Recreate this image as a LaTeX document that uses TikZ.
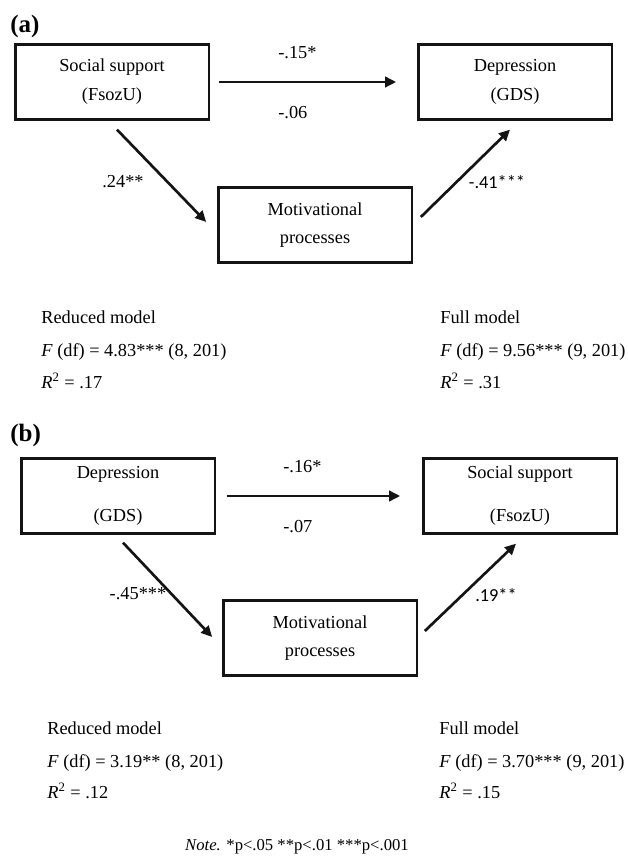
\documentclass[tikz,border=0pt]{standalone}
\usepackage{fontspec}
\setmainfont{Liberation Serif}
\newfontfamily\calibrisans{Carlito}
\usepackage{tikz}
\usetikzlibrary{
  arrows.meta,
  positioning
}
\definecolor{PathBlack}{RGB}{20,20,20}
\tikzset{
  varbox/.style={draw=PathBlack,fill=white,line width=1.4pt,minimum width=116pt,minimum height=45pt,align=center,font=\fontsize{11}{13.5}\selectfont},
  patharrow/.style={-{Triangle[length=6.6pt,width=6.2pt]},line width=1.6pt,draw=PathBlack},
  coef/.style={inner sep=0pt,font=\fontsize{11}{13}\selectfont},
  coefsans/.style={inner sep=0pt,font=\calibrisans\fontsize{11}{13}\selectfont},
  modeltext/.style={anchor=base west,inner sep=0pt,font=\fontsize{11}{13}\selectfont},
  panellabel/.style={anchor=base west,inner sep=0pt,font=\bfseries\fontsize{15}{18}\selectfont}
}

\begin{document}
\begin{tikzpicture}[x=0.6pt,y=-0.6pt]
\useasboundingbox (0,0) rectangle (627,858);
% panel (a)
\node[panellabel] (pa) at (10,33) {(a)};
\node[varbox] (ssA) at (112,82) {Social support\\[3.8pt](FsozU)};
\node[varbox] (depA) at (515,82) {Depression\\[3.8pt](GDS)};
\node[varbox] (motA) at (315,225) {Motivational\\[3.3pt]processes};
\draw[patharrow, shorten <=5.4pt, shorten >=12.6pt] (ssA) -- (depA);
\draw[patharrow] ([shift={(5,9)}]ssA.south) -- ([shift={(-11,-3)}]motA.west);
\draw[patharrow] ([shift={(8,-8)}]motA.east) -- ([shift={(-5,9)}]depA.south);
\node[coef, anchor=west] (cA1) at (278,53) {-.15*};
\node[coef, anchor=west] (cA2) at (278,113) {-.06};
\node[coef] (aA) at (123,182) {.24**};
\node[coefsans] (bA) at (497,182) {-.41***};
\node[modeltext] (redA1) at (41,323) {Reduced model};
\node[modeltext] (redA2) at (41,356) {\textit{F} (df) = 4.83*** (8, 201)};
\node[modeltext] (redA3) at (41,388) {\textit{R}\textsuperscript{2} = .17};
\node[modeltext] (fullA1) at (440,323) {Full model};
\node[modeltext] (fullA2) at (440,356) {\textit{F} (df) = 9.56*** (9, 201)};
\node[modeltext] (fullA3) at (440,388) {\textit{R}\textsuperscript{2} = .31};
% panel (b)
\node[panellabel] (pb) at (10,441) {(b)};
\node[varbox] (depB) at (118,496) {Depression\\[12.3pt](GDS)};
\node[varbox] (ssB) at (520,496) {Social support\\[12.3pt](FsozU)};
\node[varbox] (motB) at (320,638) {Motivational\\[3.3pt]processes};
\draw[patharrow, shorten <=6.6pt, shorten >=13.2pt] (depB) -- (ssB);
\draw[patharrow] ([shift={(5,8)}]depB.south) -- ([shift={(-10,-1)}]motB.west);
\draw[patharrow] ([shift={(7,-7)}]motB.east) -- ([shift={(-4,9)}]ssB.south);
\node[coef, anchor=west] (cB1) at (283,467) {-.16*};
\node[coef, anchor=west] (cB2) at (283,527) {-.07};
\node[coef] (aB) at (138,594) {-.45***};
\node[coefsans] (bB) at (496,595) {.19**};
\node[modeltext] (redB1) at (47,734) {Reduced model};
\node[modeltext] (redB2) at (47,767) {\textit{F} (df) = 3.19** (8, 201)};
\node[modeltext] (redB3) at (47,798) {\textit{R}\textsuperscript{2} = .12};
\node[modeltext] (fullB1) at (439,734) {Full model};
\node[modeltext] (fullB2) at (439,767) {\textit{F} (df) = 3.70*** (9, 201)};
\node[modeltext] (fullB3) at (439,798) {\textit{R}\textsuperscript{2} = .15};
% note
\node[anchor=base, inner sep=0pt, font=\fontsize{10}{12}\selectfont] (note) at (297,850) {\textit{Note.} *p<.05 **p<.01 ***p<.001};
\end{tikzpicture}
\end{document}
